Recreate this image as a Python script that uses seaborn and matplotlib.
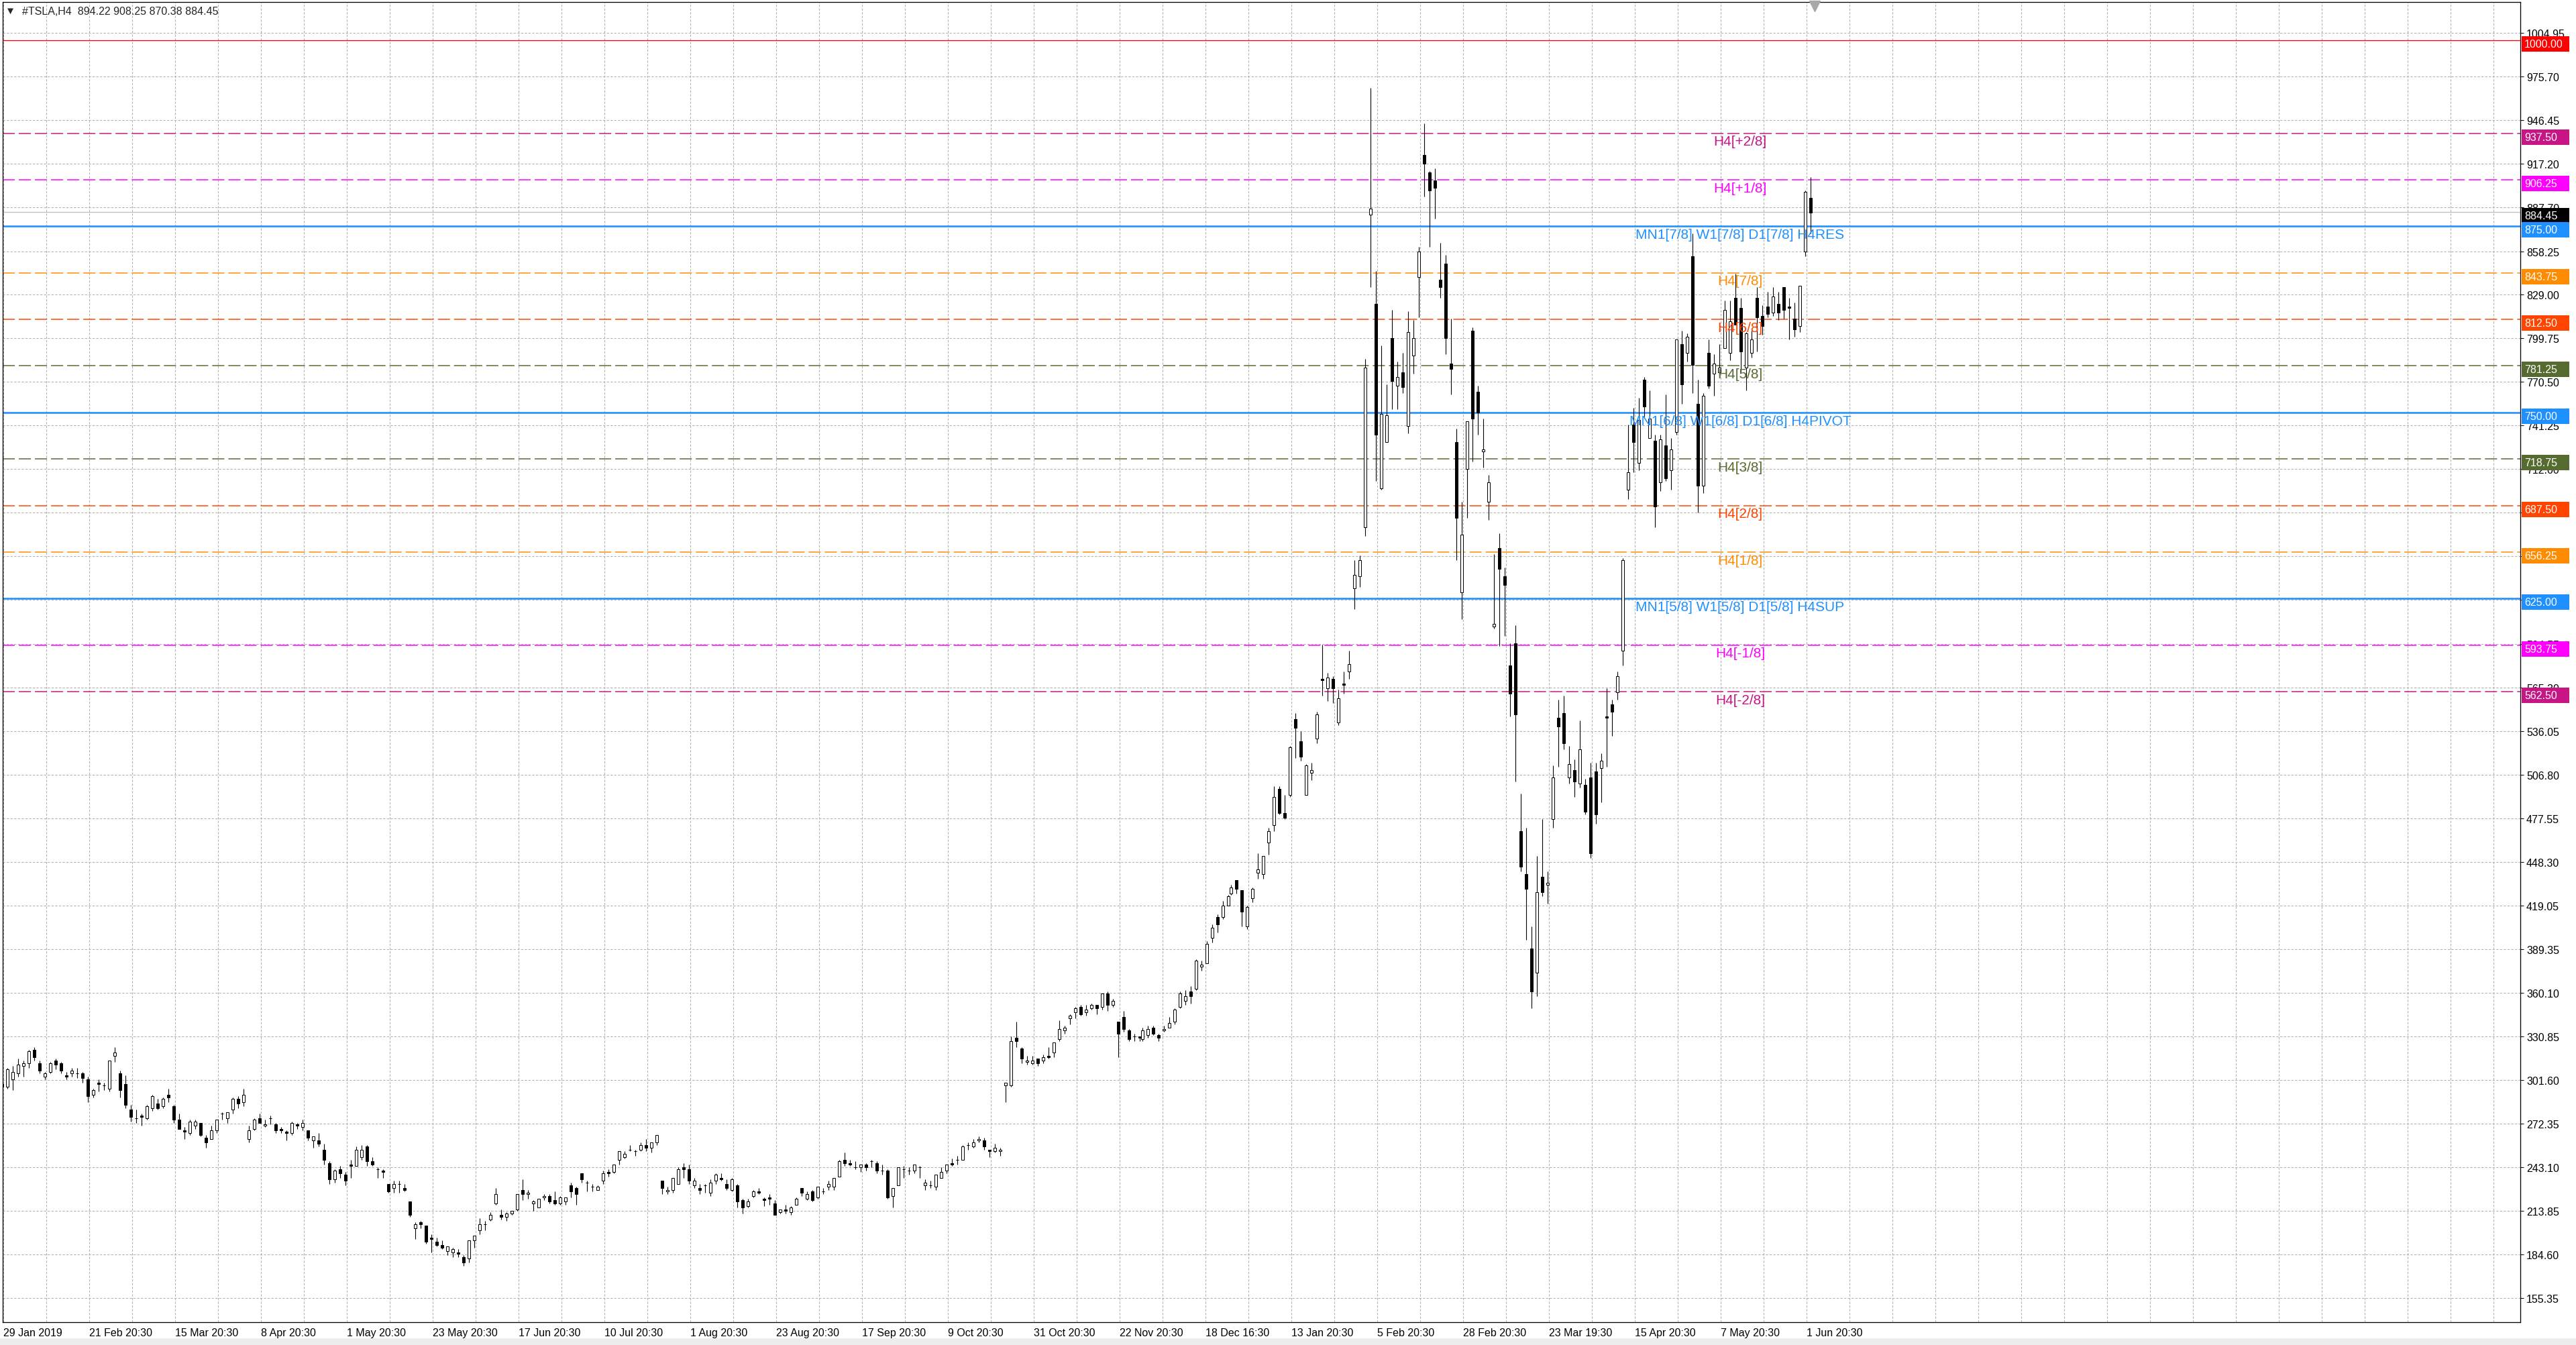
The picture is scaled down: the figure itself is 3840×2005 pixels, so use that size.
import matplotlib
matplotlib.use("Agg")
import numpy as np
import matplotlib.pyplot as plt
import matplotlib.transforms as mtransforms
from matplotlib.patches import Rectangle
import seaborn as sns

# daily candles, 29 Jan 2019 .. 2 Jun 2020
opens = [
    299, 297, 302, 306, 311, 313, 322, 313, 304, 307,
    315, 313, 305, 306, 306, 306, 302, 292, 300, 298,
    296, 318, 306, 299, 282, 276, 278, 276, 283, 286,
    284, 292, 284, 275, 268, 266, 271, 273, 263, 262,
    268, 279, 276, 282, 289, 287, 262, 269, 276, 271,
    276, 272, 269, 267, 266, 272, 270, 268, 261, 261,
    255, 246, 235, 242, 238, 245, 244, 250, 257, 247,
    242, 241, 232, 229, 232, 229, 220, 202, 206, 204,
    196, 193, 191, 187, 186, 186, 183, 182, 194, 201,
    205, 208, 219, 211, 210, 212, 215, 228, 225, 219,
    216, 223, 224, 221, 219, 220, 231, 229, 239, 233,
    230, 228, 234, 240, 240, 248, 250, 255, 254, 255,
    258, 256, 260, 234, 227, 228, 232, 243, 242, 231,
    229, 231, 226, 234, 236, 232, 228, 231, 221, 217,
    224, 227, 222, 223, 219, 213, 215, 213, 218, 229,
    222, 227, 223, 227, 230, 230, 237, 248, 246, 243,
    243, 245, 247, 246, 241, 241, 224, 231, 242, 241,
    241, 243, 231, 231, 230, 236, 241, 246, 248, 248,
    258, 257, 261, 261, 255, 254, 254, 298, 298, 330,
    323, 314, 313, 316, 315, 318, 320, 329, 335, 343,
    347, 351, 347, 350, 352, 351, 360, 352, 341, 344,
    335, 331, 331, 329, 332, 337, 332, 335, 337, 341,
    351, 355, 361, 363, 378, 380, 397, 411, 411, 419,
    427, 436, 429, 405, 424, 441, 440, 461, 473, 497,
    481, 493, 544, 529, 493, 508, 531, 571, 565, 571,
    542, 568, 576, 632, 640, 673, 883, 823, 699, 730,
    800, 768, 777, 741, 788, 841, 923, 911, 906, 839,
    850, 783, 730, 629, 712, 805, 764, 724, 690, 606,
    659, 640, 580, 595, 469, 440, 390, 374, 438, 433,
    477, 545, 548, 505, 510, 501, 500, 505, 509, 511,
    546, 554, 562, 590, 698, 742, 716, 772, 733, 731,
    703, 728, 711, 737, 796, 790, 855, 756, 701, 790,
    776, 777, 793, 790, 827, 820, 780, 790, 827, 815,
    821, 817, 823, 834, 821, 813, 808, 858, 894,
]
highs = [
    300, 310, 311, 316, 315, 322, 324, 315, 307, 314,
    316, 314, 307, 310, 310, 307, 304, 296, 302, 300,
    315, 324, 308, 305, 285, 282, 279, 285, 292, 289,
    290, 296, 285, 279, 270, 275, 275, 273, 265, 271,
    275, 280, 280, 290, 291, 296, 271, 276, 279, 275,
    278, 273, 270, 268, 274, 273, 275, 268, 264, 266,
    259, 247, 242, 244, 240, 248, 257, 258, 258, 250,
    243, 242, 232, 234, 234, 232, 220, 206, 207, 204,
    198, 196, 194, 190, 189, 188, 184, 194, 197, 209,
    207, 213, 229, 215, 213, 214, 225, 235, 228, 221,
    222, 225, 225, 227, 224, 223, 233, 230, 239, 234,
    232, 231, 241, 242, 245, 254, 254, 258, 255, 260,
    262, 260, 265, 234, 230, 236, 243, 246, 245, 236,
    232, 232, 235, 239, 239, 235, 236, 232, 222, 222,
    228, 229, 223, 225, 221, 215, 218, 217, 223, 229,
    227, 228, 230, 229, 234, 236, 248, 253, 248, 247,
    245, 246, 248, 247, 245, 242, 229, 243, 244, 243,
    245, 244, 235, 234, 238, 243, 245, 249, 251, 258,
    260, 262, 264, 263, 255, 259, 256, 300, 331, 341,
    324, 318, 318, 316, 319, 324, 327, 342, 338, 346,
    351, 352, 352, 353, 352, 360, 361, 356, 341, 348,
    336, 333, 331, 337, 338, 338, 333, 338, 344, 350,
    361, 362, 365, 383, 382, 395, 406, 413, 422, 426,
    433, 436, 429, 419, 431, 454, 452, 471, 499, 499,
    493, 526, 548, 536, 514, 515, 549, 594, 575, 573,
    564, 576, 590, 651, 654, 786, 968, 845, 795, 769,
    819, 784, 790, 818, 812, 861, 944, 912, 914, 864,
    856, 813, 739, 690, 744, 807, 768, 746, 708, 655,
    669, 646, 595, 607, 494, 471, 405, 452, 477, 442,
    513, 557, 560, 526, 517, 543, 504, 515, 515, 521,
    565, 557, 576, 652, 742, 753, 760, 774, 765, 735,
    735, 762, 733, 799, 805, 803, 870, 772, 763, 799,
    789, 796, 825, 825, 843, 827, 804, 805, 834, 822,
    831, 834, 831, 834, 827, 824, 835, 899, 908,
]
lows = [
    292, 296, 295, 304, 304, 310, 315, 306, 302, 306,
    309, 306, 302, 304, 303, 300, 287, 290, 294, 295,
    294, 314, 290, 283, 274, 273, 271, 275, 281, 282,
    283, 287, 273, 269, 262, 265, 269, 264, 256, 262,
    266, 275, 273, 279, 283, 284, 260, 268, 273, 270,
    272, 266, 266, 261, 265, 269, 268, 261, 256, 257,
    245, 232, 233, 236, 231, 236, 244, 248, 244, 244,
    236, 236, 226, 226, 226, 227, 210, 195, 202, 192,
    186, 190, 188, 184, 183, 183, 177, 179, 189, 198,
    201, 207, 218, 208, 207, 211, 214, 221, 222, 214,
    216, 221, 219, 218, 218, 218, 223, 218, 233, 227,
    227, 228, 232, 237, 239, 245, 249, 254, 251, 254,
    254, 253, 258, 225, 225, 226, 232, 236, 232, 229,
    225, 226, 224, 232, 234, 228, 227, 216, 212, 216,
    223, 225, 217, 218, 211, 212, 212, 211, 218, 224,
    221, 220, 222, 225, 228, 228, 237, 244, 244, 242,
    240, 241, 243, 239, 238, 222, 216, 231, 236, 238,
    239, 236, 228, 229, 228, 236, 239, 244, 245, 248,
    255, 256, 260, 255, 250, 253, 251, 287, 297, 324,
    313, 312, 312, 311, 313, 316, 317, 328, 333, 339,
    343, 345, 345, 349, 346, 349, 348, 351, 317, 334,
    328, 328, 328, 328, 330, 332, 328, 334, 337, 339,
    350, 352, 353, 362, 375, 380, 394, 401, 410, 419,
    426, 427, 405, 403, 421, 437, 437, 453, 469, 480,
    477, 492, 518, 516, 493, 503, 528, 560, 556, 555,
    540, 561, 571, 618, 633, 667, 834, 704, 698, 730,
    752, 752, 763, 736, 776, 814, 895, 861, 880, 827,
    789, 762, 651, 611, 679, 717, 735, 713, 678, 605,
    593, 600, 546, 502, 442, 396, 350, 358, 425, 420,
    471, 512, 524, 501, 492, 498, 480, 451, 474, 488,
    512, 533, 557, 580, 692, 710, 711, 747, 733, 673,
    697, 704, 698, 735, 756, 784, 763, 683, 696, 766,
    761, 775, 793, 785, 809, 777, 765, 787, 791, 802,
    814, 815, 812, 813, 799, 801, 804, 855, 870,
]
closes = [
    297, 309, 307, 312, 313, 321, 317, 308, 306, 313,
    312, 308, 304, 308, 306, 303, 291, 295, 299, 298,
    315, 320, 295, 285, 277, 276, 277, 284, 291, 283,
    289, 290, 275, 269, 267, 274, 274, 265, 260, 268,
    275, 279, 280, 289, 286, 292, 268, 275, 273, 272,
    276, 268, 268, 266, 273, 271, 273, 263, 264, 259,
    248, 235, 241, 239, 234, 244, 255, 255, 247, 245,
    242, 240, 227, 232, 232, 228, 211, 205, 205, 193,
    195, 191, 189, 190, 188, 185, 179, 194, 197, 205,
    205, 211, 225, 210, 212, 214, 225, 225, 226, 220,
    222, 224, 220, 219, 223, 223, 227, 225, 235, 233,
    230, 230, 239, 239, 245, 254, 252, 255, 254, 258,
    256, 260, 265, 229, 228, 236, 242, 242, 234, 234,
    228, 231, 233, 238, 235, 229, 235, 220, 216, 220,
    227, 226, 221, 222, 211, 215, 214, 216, 222, 226,
    225, 221, 230, 227, 232, 236, 247, 246, 245, 243,
    245, 243, 247, 241, 241, 223, 229, 243, 242, 241,
    245, 243, 233, 231, 238, 240, 245, 245, 248, 257,
    258, 260, 262, 257, 254, 256, 255, 300, 328, 328,
    316, 315, 315, 313, 317, 317, 327, 336, 337, 345,
    350, 346, 349, 352, 350, 360, 352, 355, 333, 336,
    329, 331, 330, 335, 336, 333, 330, 336, 340, 349,
    360, 358, 358, 382, 379, 393, 404, 406, 419, 425,
    431, 430, 415, 418, 430, 443, 452, 469, 492, 481,
    478, 525, 538, 519, 513, 510, 547, 570, 572, 565,
    558, 567, 581, 641, 651, 780, 887, 735, 749, 748,
    771, 774, 767, 804, 800, 858, 917, 899, 901, 834,
    800, 779, 679, 668, 744, 746, 750, 725, 703, 608,
    645, 634, 561, 547, 445, 430, 361, 428, 428, 434,
    505, 539, 528, 514, 502, 524, 482, 454, 480, 516,
    545, 549, 573, 651, 710, 730, 745, 754, 746, 687,
    732, 706, 725, 799, 769, 801, 782, 701, 761, 768,
    783, 780, 819, 811, 809, 791, 803, 799, 814, 808,
    816, 828, 817, 819, 820, 806, 835, 898, 884,
]
# days with a single H4 bar (Nov 29, Dec 24)
half_days = [212, 229]

x_labels = ["29 Jan 2019", "21 Feb 20:30", "15 Mar 20:30", "8 Apr 20:30",
            "1 May 20:30", "23 May 20:30", "17 Jun 20:30", "10 Jul 20:30",
            "1 Aug 20:30", "23 Aug 20:30", "17 Sep 20:30", "9 Oct 20:30",
            "31 Oct 20:30", "22 Nov 20:30", "18 Dec 16:30", "13 Jan 20:30",
            "5 Feb 20:30", "28 Feb 20:30", "23 Mar 19:30", "15 Apr 20:30",
            "7 May 20:30", "1 Jun 20:30"]
y_ticks = [1004.95, 975.70, 946.45, 917.20, 887.70, 858.25, 829.00, 799.75,
           770.50, 741.25, 712.00, 682.75, 653.50, 624.25, 594.55, 565.30,
           536.05, 506.80, 477.55, 448.30, 419.05, 389.35, 360.10, 330.85,
           301.60, 272.35, 243.10, 213.85, 184.60, 155.35]

# Murrey math levels
level_values = [937.50, 906.25, 875.00, 843.75, 812.50, 781.25, 750.00,
                718.75, 687.50, 656.25, 625.00, 593.75, 562.50]
level_names = ["H4[+2/8]", "H4[+1/8]", "MN1[7/8] W1[7/8] D1[7/8] H4RES",
               "H4[7/8]", "H4[6/8]", "H4[5/8]",
               "MN1[6/8] W1[6/8] D1[6/8] H4PIVOT", "H4[3/8]", "H4[2/8]",
               "H4[1/8]", "MN1[5/8] W1[5/8] D1[5/8] H4SUP", "H4[-1/8]",
               "H4[-2/8]"]
level_colors = ["#C71585", "#FF00FF", "#1E90FF", "#FF8C00", "#FF4500",
                "#556B2F", "#1E90FF", "#556B2F", "#FF4500", "#FF8C00",
                "#1E90FF", "#FF00FF", "#C71585"]
round_level = 1000.00
bid = 884.45
title = "#TSLA,H4  894.22 908.25 870.38 884.45"

sns.set_style("white")
plt.rcParams['font.family'] = ['Liberation Sans', 'DejaVu Sans']
plt.rcParams['lines.scale_dashes'] = False

W, H, DPI = 3840, 2006, 100
PX = 72 / DPI
fig = plt.figure(figsize=(W / DPI, H / DPI), dpi=DPI, facecolor="white")
ax = fig.add_axes([4 / W, (H - 1972) / H, (3757 - 4) / W, (1972 - 4) / H])
ax.set_facecolor("white")

o = np.array(opens, float)
h = np.array(highs, float)
l = np.array(lows, float)
c = np.array(closes, float)
idx = np.arange(len(c))
x = 2 * idx - 0.5 - np.searchsorted(half_days, idx, side="left")

# candles
ax.vlines(x, l, h, color="black", lw=1.1 * PX, zorder=3)
up = c >= o
body_lo = np.minimum(o, c)
body_h = np.abs(c - o)
ax.bar(x[up], body_h[up], bottom=body_lo[up], width=1.2, color="white",
       edgecolor="black", linewidth=1.0 * PX, zorder=4)
ax.bar(x[~up], body_h[~up], bottom=body_lo[~up], width=1.2, color="black",
       edgecolor="black", linewidth=1.0 * PX, zorder=4)

# horizontal levels
ax.axhline(round_level, color="red", lw=1.3 * PX, zorder=1.6)
ax.axhline(bid, color="#BDBDBD", lw=1.3 * PX, zorder=1.6)
label_x = 647.25
shift_down = mtransforms.ScaledTranslation(0, -2 / 72, fig.dpi_scale_trans)
for v, name, col in zip(level_values, level_names, level_colors):
    if name.startswith("MN1"):
        ax.axhline(v, color=col, lw=2.6 * PX, zorder=1.7)
    else:
        ax.axhline(v, color=col, lw=1.5 * PX, ls=(0, (13, 4.3)), zorder=1.6)
    ax.text(label_x, v, name, color=col, fontsize=15, ha="center", va="top",
            transform=ax.transData + shift_down, zorder=6)

# axes range and grid
ax.set_xlim(-0.25, 938.0)
ax.set_ylim(139.1, 1025.6)
ax.set_xticks([32 * k for k in range(len(x_labels))])
ax.set_xticklabels(x_labels, ha="left")
ax.set_xticks([16 * k for k in range(59)], minor=True)
ax.set_yticks(y_ticks)
ax.set_yticklabels([f"{v:.2f}" for v in y_ticks])
ax.yaxis.tick_right()
ax.tick_params(axis="both", which="major", length=5 * PX, width=1 * PX,
               labelsize=11.5, colors="black", direction="out")
ax.tick_params(axis="y", pad=4 * PX)
ax.tick_params(axis="x", pad=3 * PX)
ax.tick_params(which="minor", length=0)
ax.set_axisbelow(True)
grid_kw = dict(color="#B2B2B2", lw=1.1 * PX, ls=(0, (2.4, 1.6)))
ax.grid(True, axis="x", which="both", **grid_kw)
ax.grid(True, axis="y", which="major", **grid_kw)
for s in ax.spines.values():
    s.set_color("black")
    s.set_linewidth(1.3 * PX)

# price tags on the right scale (drawn a few pixels below their level)
tag_trans = mtransforms.blended_transform_factory(ax.transAxes, ax.transData)
ax_w = 3757 - 4
tag_vals = [round_level, bid] + level_values
tag_cols = ["#FF0000", "#000000"] + level_colors
tag_half = 11.5 / 2.22
tag_drop = 5.5 / 2.22
for v, col in zip(tag_vals, tag_cols):
    yc = v - tag_drop
    ax.add_patch(Rectangle((1 + 2 / ax_w, yc - tag_half), 71 / ax_w, 2 * tag_half,
                           transform=tag_trans, facecolor=col, edgecolor="none",
                           clip_on=False, zorder=20))
    ax.text(1 + 6 / ax_w, yc, f"{v:.2f}", color="white", fontsize=11.5,
            ha="left", va="center", transform=tag_trans, clip_on=False,
            zorder=21)

# chart shift marker at the top
top_trans = mtransforms.blended_transform_factory(ax.transData, ax.transAxes)
ax.plot([675], [1 - 6 / 1968], marker="v", markersize=11 * PX * 1.4,
        color="#A8A8A8", transform=top_trans, clip_on=False, zorder=7)

# title line
fig.text(8 / W, 1 - 17 / H, "\u25BC", fontsize=11, va="center", ha="left")
fig.text(33 / W, 1 - 17 / H, title, fontsize=11.5, va="center", ha="left")

# bottom status strip
fig.patches.append(Rectangle((0, 0), 1, 10 / H, transform=fig.transFigure,
                             facecolor="#EDEDED", edgecolor="none"))

fig.savefig("out.png", dpi=DPI, facecolor="white")
